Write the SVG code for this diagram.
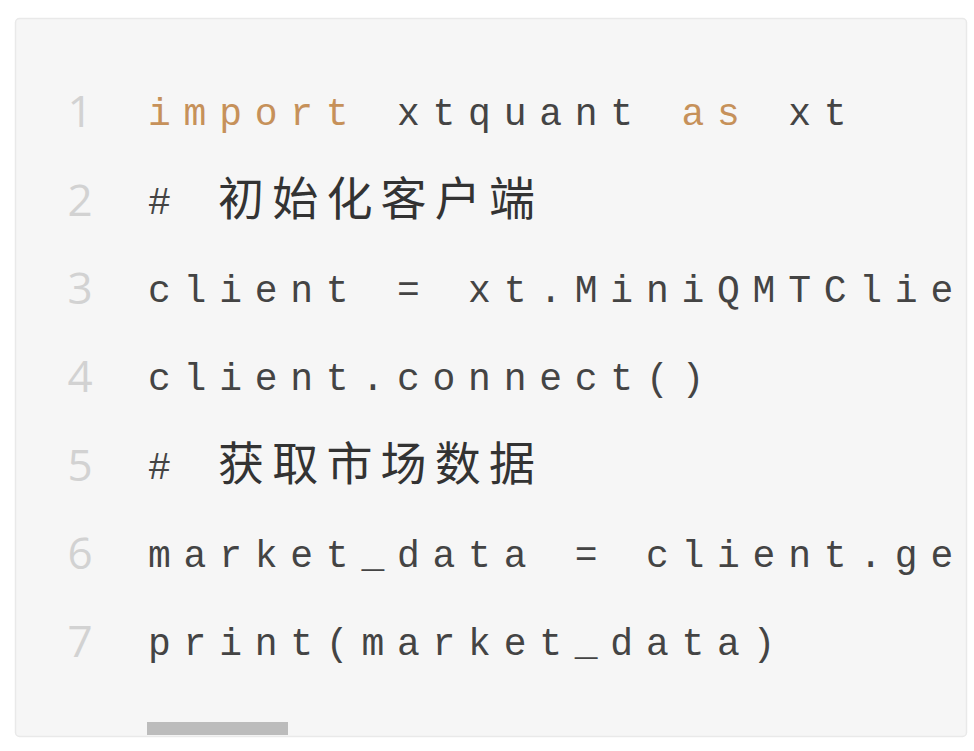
<svg xmlns="http://www.w3.org/2000/svg" width="974" height="751" viewBox="0 0 974 751">
<style>
.code{font-family:"Liberation Mono","Courier New",monospace;font-size:38px;letter-spacing:12.76px;fill:#444444;white-space:pre}
.kw{fill:#c6915a}
.cjk{font-family:"Noto Sans CJK SC","Noto Sans",sans-serif;font-size:46px;letter-spacing:8.2px;font-weight:400;fill:#333333}
.ln{font-family:"Open Sans","Noto Sans",sans-serif;font-size:44px;fill:#d2d2d2;text-anchor:middle}
</style>
<defs>
<clipPath id="clip"><rect x="16" y="19" width="950" height="717" rx="4"/></clipPath>
</defs>
<rect width="974" height="751" fill="#ffffff"/>
<g id="codebox">
<rect x="15.5" y="18.5" width="951" height="718" rx="4" fill="#f6f6f6" stroke="#e9e9e9" stroke-width="1.5"/>
</g>
<g id="line-numbers">
<text class="ln" x="80" y="127">1</text>
<text class="ln" x="80" y="215.5">2</text>
<text class="ln" x="80" y="304">3</text>
<text class="ln" x="80" y="392">4</text>
<text class="ln" x="80" y="480.5">5</text>
<text class="ln" x="80" y="569">6</text>
<text class="ln" x="80" y="657">7</text>
</g>
<g id="code" clip-path="url(#clip)">
<text class="code" x="148" y="125"><tspan class="kw">import</tspan> xtquant <tspan class="kw">as</tspan> xt</text>
<text class="code" x="148" y="213.5">#<tspan class="cjk" x="218" y="215">初始化客户端</tspan></text>
<text class="code" x="148" y="302">client = xt.MiniQMTClie</text>
<text class="code" x="148" y="390">client.connect()</text>
<text class="code" x="148" y="478.5">#<tspan class="cjk" x="218" y="480">获取市场数据</tspan></text>
<text class="code" x="148" y="567">market_data = client.ge</text>
<text class="code" x="148" y="655">print(market_data)</text>
</g>
<g id="scrollbar">
<rect x="147" y="722" width="141" height="13" fill="#bcbcbc"/>
</g>
</svg>
